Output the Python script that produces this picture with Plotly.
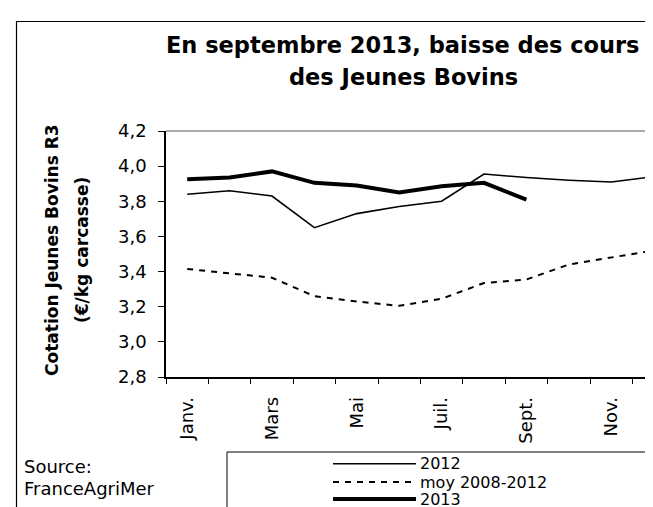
import plotly.graph_objects as go

# ---- data ----
months = ["Janv.", "Févr.", "Mars", "Avr.", "Mai", "Juin",
          "Juil.", "Août", "Sept.", "Oct.", "Nov.", "Déc."]
tick_labels = ["Janv.", "Mars", "Mai", "Juil.", "Sept.", "Nov."]
y2012 = [3.84, 3.86, 3.83, 3.65, 3.73, 3.77, 3.80, 3.955, 3.935, 3.92, 3.91, 3.94]
ymoy = [3.415, 3.39, 3.365, 3.26, 3.23, 3.205, 3.245, 3.335, 3.355, 3.44, 3.48, 3.52]
y2013 = [3.925, 3.935, 3.97, 3.905, 3.89, 3.85, 3.885, 3.905, 3.81]
series_names = ["2012", "moy 2008-2012", "2013"]

title_lines = ["En septembre 2013, baisse des cours", "des Jeunes Bovins"]
ytitle_lines = ["Cotation Jeunes Bovins R3", "(€/kg carcasse)"]
source_lines = ["Source:", "FranceAgriMer"]

# ---- geometry (pixels) ----
W, H = 653, 507
L, R, T, B = 158, 0, 123, 138
PW = W - L - R
PH = H - T - B


def px(x):
    return (x - L) / PW


def py(y):
    return (H - B - y) / PH


xpos = list(range(len(months)))
tickvals = [months.index(m) for m in tick_labels]

styles = [
    dict(color="black", width=1.6),
    dict(color="black", width=2, dash="6px,6px"),
    dict(color="black", width=4),
]
values = [y2012, ymoy, y2013]

fig = go.Figure()
for name, vals, st in zip(series_names, values, styles):
    fig.add_trace(go.Scatter(x=xpos[:len(vals)], y=vals, name=name,
                             mode="lines", line=st, showlegend=False))

fig.update_layout(
    width=W, height=H,
    margin=dict(l=L, r=R, t=T, b=B, pad=0),
    paper_bgcolor="white", plot_bgcolor="white",
    separators=", ",
    font=dict(family="DejaVu Sans", color="black"),
    showlegend=False,
)

fig.update_xaxes(
    range=[-0.5, -0.5 + PW / 42.4],
    tickmode="array", tickvals=tickvals, ticktext=tick_labels,
    tickangle=-90, tickfont=dict(size=18, family="DejaVu Sans"),
    ticks="outside", ticklen=5, tickcolor="rgba(0,0,0,0)",
    ticklabelstandoff=6,
    minor=dict(tickmode="array", tickvals=[i - 0.5 for i in range(len(months) + 1)],
               ticks="outside", ticklen=5, tickcolor="black", tickwidth=1),
    showline=True, linecolor="black", linewidth=1.5,
    showgrid=False, zeroline=False,
)
fig.update_yaxes(
    range=[2.8, 4.2], tickmode="linear", tick0=2.8, dtick=0.2,
    tickformat=".1f", tickfont=dict(size=18, family="DejaVu Sans"),
    ticks="outside", ticklen=6, tickcolor="black", tickwidth=1,
    ticklabelstandoff=8,
    showline=True, linecolor="black", linewidth=1.5,
    showgrid=False, zeroline=False,
)

shapes = [
    # top border of plot area
    dict(type="line", xref="paper", yref="paper", x0=0, x1=1, y0=1, y1=1,
         line=dict(color="#8c8c8c", width=1.5)),
    # outer chart frame
    dict(type="rect", xref="paper", yref="paper", x0=px(8.5), x1=px(700),
         y0=py(560), y1=py(13.5), line=dict(color="black", width=1.2),
         layer="below"),
    # legend box
    dict(type="rect", xref="paper", yref="paper", x0=px(219), x1=px(700),
         y0=py(506), y1=py(444), line=dict(color="black", width=1)),
]
leg_rows = [455.7, 474, 491]
for st, yy in zip(styles, leg_rows):
    shapes.append(dict(type="line", xref="paper", yref="paper",
                       x0=px(325), x1=px(408), y0=py(yy), y1=py(yy), line=st))
fig.update_layout(shapes=shapes)

ann = []
for txt, yy in zip(title_lines, [36.7, 69.5]):
    ann.append(dict(text=txt, x=px(395), y=py(yy), xref="paper", yref="paper",
                    showarrow=False, xanchor="center", yanchor="middle",
                    font=dict(size=22.5, family="DejaVu Sans", weight="bold")))
for txt, xx in zip(ytitle_lines, [44, 74]):
    ann.append(dict(text=txt, x=px(xx), y=py(242), xref="paper", yref="paper",
                    showarrow=False, xanchor="center", yanchor="middle", textangle=-90,
                    font=dict(size=17, family="DejaVu Sans", weight="bold")))
for txt, yy in zip(source_lines, [458, 480]):
    ann.append(dict(text=txt, x=px(14), y=py(yy), xref="paper", yref="paper",
                    showarrow=False, xanchor="left", yanchor="middle",
                    font=dict(size=18, family="DejaVu Sans")))
for txt, yy in zip(series_names, leg_rows):
    ann.append(dict(text=txt, x=px(411), y=py(yy), xref="paper", yref="paper",
                    showarrow=False, xanchor="left", yanchor="middle",
                    font=dict(size=16, family="DejaVu Sans"), borderpad=0))
fig.update_layout(annotations=ann)

fig.write_html("out.html")
